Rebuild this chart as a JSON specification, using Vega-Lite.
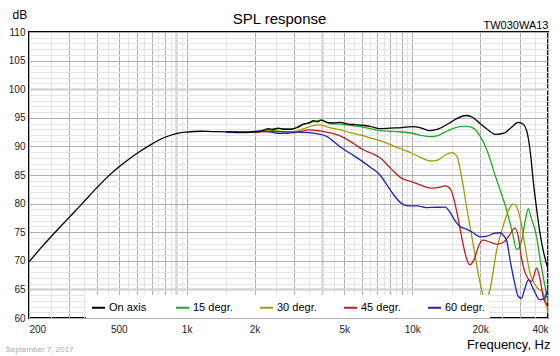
{
  "$schema": "https://vega.github.io/schema/vega-lite/v6.json",
  "width": 519,
  "height": 286,
  "autosize": {"type": "none"},
  "padding": {"left": 29, "top": 32, "right": 12, "bottom": 38},
  "background": "white",
  "config": {"font": "Liberation Sans", "view": {"stroke": "#000", "strokeWidth": 2}},
  "title": {"text": "SPL response", "fontSize": 15, "fontWeight": "normal", "anchor": "middle", "baseline": "alphabetic", "offset": 0, "dy": 31, "color": "#000", "dx": -9},
  "data": {"values": [
    {"series": "15 degr.", "freq": 1500, "db": 92.55},
    {"series": "15 degr.", "freq": 1900, "db": 92.5},
    {"series": "15 degr.", "freq": 2100, "db": 92.6},
    {"series": "15 degr.", "freq": 2300, "db": 93.0},
    {"series": "15 degr.", "freq": 2550, "db": 93.1},
    {"series": "15 degr.", "freq": 2900, "db": 93.0},
    {"series": "15 degr.", "freq": 3300, "db": 93.9},
    {"series": "15 degr.", "freq": 3600, "db": 94.3},
    {"series": "15 degr.", "freq": 3950, "db": 94.6},
    {"series": "15 degr.", "freq": 4300, "db": 94.0},
    {"series": "15 degr.", "freq": 4800, "db": 93.9},
    {"series": "15 degr.", "freq": 5500, "db": 93.6},
    {"series": "15 degr.", "freq": 6200, "db": 93.3},
    {"series": "15 degr.", "freq": 7200, "db": 92.75},
    {"series": "15 degr.", "freq": 8500, "db": 92.6},
    {"series": "15 degr.", "freq": 10000, "db": 92.3},
    {"series": "15 degr.", "freq": 11000, "db": 91.9},
    {"series": "15 degr.", "freq": 12000, "db": 91.7},
    {"series": "15 degr.", "freq": 13000, "db": 91.9},
    {"series": "15 degr.", "freq": 14500, "db": 92.8},
    {"series": "15 degr.", "freq": 16300, "db": 93.45},
    {"series": "15 degr.", "freq": 17500, "db": 93.5},
    {"series": "15 degr.", "freq": 18650, "db": 93.2},
    {"series": "15 degr.", "freq": 20000, "db": 91.8},
    {"series": "15 degr.", "freq": 21400, "db": 89.4},
    {"series": "15 degr.", "freq": 23700, "db": 84.1},
    {"series": "15 degr.", "freq": 26200, "db": 78.9},
    {"series": "15 degr.", "freq": 27800, "db": 75.0},
    {"series": "15 degr.", "freq": 29000, "db": 72.0},
    {"series": "15 degr.", "freq": 29800, "db": 72.3},
    {"series": "15 degr.", "freq": 30600, "db": 73.6},
    {"series": "15 degr.", "freq": 31700, "db": 77.0},
    {"series": "15 degr.", "freq": 32700, "db": 79.1},
    {"series": "15 degr.", "freq": 33700, "db": 77.5},
    {"series": "15 degr.", "freq": 35600, "db": 74.2},
    {"series": "15 degr.", "freq": 37000, "db": 70.0},
    {"series": "15 degr.", "freq": 38100, "db": 67.2},
    {"series": "15 degr.", "freq": 40000, "db": 62.6},

    {"series": "30 degr.", "freq": 1800, "db": 92.5},
    {"series": "30 degr.", "freq": 2100, "db": 92.6},
    {"series": "30 degr.", "freq": 2400, "db": 92.8},
    {"series": "30 degr.", "freq": 2700, "db": 92.6},
    {"series": "30 degr.", "freq": 3000, "db": 92.6},
    {"series": "30 degr.", "freq": 3300, "db": 93.1},
    {"series": "30 degr.", "freq": 3600, "db": 93.6},
    {"series": "30 degr.", "freq": 3900, "db": 93.75},
    {"series": "30 degr.", "freq": 4300, "db": 93.3},
    {"series": "30 degr.", "freq": 4800, "db": 92.9},
    {"series": "30 degr.", "freq": 5300, "db": 92.4},
    {"series": "30 degr.", "freq": 5900, "db": 92.0},
    {"series": "30 degr.", "freq": 6500, "db": 91.5},
    {"series": "30 degr.", "freq": 7200, "db": 91.0},
    {"series": "30 degr.", "freq": 8000, "db": 90.3},
    {"series": "30 degr.", "freq": 9000, "db": 89.5},
    {"series": "30 degr.", "freq": 10000, "db": 88.8},
    {"series": "30 degr.", "freq": 11000, "db": 88.0},
    {"series": "30 degr.", "freq": 12000, "db": 87.45},
    {"series": "30 degr.", "freq": 13000, "db": 87.6},
    {"series": "30 degr.", "freq": 14000, "db": 88.5},
    {"series": "30 degr.", "freq": 15000, "db": 88.9},
    {"series": "30 degr.", "freq": 15800, "db": 88.2},
    {"series": "30 degr.", "freq": 16500, "db": 85.0},
    {"series": "30 degr.", "freq": 17500, "db": 79.0},
    {"series": "30 degr.", "freq": 18600, "db": 73.1},
    {"series": "30 degr.", "freq": 19800, "db": 67.0},
    {"series": "30 degr.", "freq": 21000, "db": 63.3},
    {"series": "30 degr.", "freq": 22000, "db": 64.6},
    {"series": "30 degr.", "freq": 23700, "db": 71.9},
    {"series": "30 degr.", "freq": 25500, "db": 76.5},
    {"series": "30 degr.", "freq": 27000, "db": 79.2},
    {"series": "30 degr.", "freq": 28000, "db": 79.9},
    {"series": "30 degr.", "freq": 29000, "db": 79.5},
    {"series": "30 degr.", "freq": 30000, "db": 77.7},
    {"series": "30 degr.", "freq": 31500, "db": 73.0},
    {"series": "30 degr.", "freq": 33300, "db": 67.8},
    {"series": "30 degr.", "freq": 35500, "db": 65.5},
    {"series": "30 degr.", "freq": 38100, "db": 64.3},
    {"series": "30 degr.", "freq": 40000, "db": 60.9},

    {"series": "45 degr.", "freq": 1600, "db": 92.5},
    {"series": "45 degr.", "freq": 2000, "db": 92.5},
    {"series": "45 degr.", "freq": 2300, "db": 92.6},
    {"series": "45 degr.", "freq": 2700, "db": 92.6},
    {"series": "45 degr.", "freq": 3100, "db": 92.5},
    {"series": "45 degr.", "freq": 3500, "db": 92.9},
    {"series": "45 degr.", "freq": 3900, "db": 92.7},
    {"series": "45 degr.", "freq": 4400, "db": 92.3},
    {"series": "45 degr.", "freq": 5000, "db": 91.5},
    {"series": "45 degr.", "freq": 5500, "db": 90.5},
    {"series": "45 degr.", "freq": 6000, "db": 89.5},
    {"series": "45 degr.", "freq": 6600, "db": 88.8},
    {"series": "45 degr.", "freq": 7200, "db": 88.0},
    {"series": "45 degr.", "freq": 8000, "db": 86.2},
    {"series": "45 degr.", "freq": 9000, "db": 84.4},
    {"series": "45 degr.", "freq": 10000, "db": 83.8},
    {"series": "45 degr.", "freq": 11000, "db": 83.2},
    {"series": "45 degr.", "freq": 12000, "db": 82.7},
    {"series": "45 degr.", "freq": 13000, "db": 82.8},
    {"series": "45 degr.", "freq": 14000, "db": 83.1},
    {"series": "45 degr.", "freq": 14800, "db": 82.5},
    {"series": "45 degr.", "freq": 15700, "db": 78.9},
    {"series": "45 degr.", "freq": 16500, "db": 74.5},
    {"series": "45 degr.", "freq": 17300, "db": 70.8},
    {"series": "45 degr.", "freq": 18000, "db": 69.3},
    {"series": "45 degr.", "freq": 18800, "db": 70.2},
    {"series": "45 degr.", "freq": 19800, "db": 72.8},
    {"series": "45 degr.", "freq": 20700, "db": 73.6},
    {"series": "45 degr.", "freq": 22000, "db": 73.3},
    {"series": "45 degr.", "freq": 23700, "db": 72.9},
    {"series": "45 degr.", "freq": 25500, "db": 73.3},
    {"series": "45 degr.", "freq": 27000, "db": 74.5},
    {"series": "45 degr.", "freq": 28500, "db": 75.7},
    {"series": "45 degr.", "freq": 29500, "db": 74.3},
    {"series": "45 degr.", "freq": 30500, "db": 70.5},
    {"series": "45 degr.", "freq": 32000, "db": 67.5},
    {"series": "45 degr.", "freq": 33900, "db": 66.4},
    {"series": "45 degr.", "freq": 35600, "db": 68.7},
    {"series": "45 degr.", "freq": 36800, "db": 67.0},
    {"series": "45 degr.", "freq": 38100, "db": 63.7},
    {"series": "45 degr.", "freq": 40000, "db": 62.0},

    {"series": "60 degr.", "freq": 1500, "db": 92.5},
    {"series": "60 degr.", "freq": 1800, "db": 92.4},
    {"series": "60 degr.", "freq": 2100, "db": 92.7},
    {"series": "60 degr.", "freq": 2300, "db": 92.6},
    {"series": "60 degr.", "freq": 2550, "db": 92.3},
    {"series": "60 degr.", "freq": 2800, "db": 92.3},
    {"series": "60 degr.", "freq": 3100, "db": 92.5},
    {"series": "60 degr.", "freq": 3500, "db": 92.4},
    {"series": "60 degr.", "freq": 3800, "db": 92.2},
    {"series": "60 degr.", "freq": 4200, "db": 91.7},
    {"series": "60 degr.", "freq": 4500, "db": 90.8},
    {"series": "60 degr.", "freq": 4800, "db": 89.9},
    {"series": "60 degr.", "freq": 5300, "db": 88.8},
    {"series": "60 degr.", "freq": 5900, "db": 87.6},
    {"series": "60 degr.", "freq": 6500, "db": 86.4},
    {"series": "60 degr.", "freq": 7200, "db": 85.0},
    {"series": "60 degr.", "freq": 7800, "db": 83.0},
    {"series": "60 degr.", "freq": 8400, "db": 81.2},
    {"series": "60 degr.", "freq": 9000, "db": 80.0},
    {"series": "60 degr.", "freq": 9600, "db": 79.6},
    {"series": "60 degr.", "freq": 10500, "db": 79.6},
    {"series": "60 degr.", "freq": 11500, "db": 79.3},
    {"series": "60 degr.", "freq": 12500, "db": 79.35},
    {"series": "60 degr.", "freq": 14000, "db": 79.4},
    {"series": "60 degr.", "freq": 14700, "db": 78.5},
    {"series": "60 degr.", "freq": 15500, "db": 77.0},
    {"series": "60 degr.", "freq": 16300, "db": 76.0},
    {"series": "60 degr.", "freq": 17500, "db": 75.5},
    {"series": "60 degr.", "freq": 18500, "db": 75.0},
    {"series": "60 degr.", "freq": 20000, "db": 74.2},
    {"series": "60 degr.", "freq": 21500, "db": 74.3},
    {"series": "60 degr.", "freq": 23000, "db": 74.8},
    {"series": "60 degr.", "freq": 24500, "db": 74.9},
    {"series": "60 degr.", "freq": 25500, "db": 74.3},
    {"series": "60 degr.", "freq": 26200, "db": 73.6},
    {"series": "60 degr.", "freq": 27200, "db": 70.0},
    {"series": "60 degr.", "freq": 28500, "db": 66.0},
    {"series": "60 degr.", "freq": 29500, "db": 63.8},
    {"series": "60 degr.", "freq": 30500, "db": 63.45},
    {"series": "60 degr.", "freq": 31500, "db": 65.0},
    {"series": "60 degr.", "freq": 32700, "db": 66.65},
    {"series": "60 degr.", "freq": 34500, "db": 65.0},
    {"series": "60 degr.", "freq": 36800, "db": 63.2},
    {"series": "60 degr.", "freq": 38500, "db": 63.4},
    {"series": "60 degr.", "freq": 40000, "db": 65.3},

    {"series": "On axis", "freq": 200, "db": 69.8},
    {"series": "On axis", "freq": 230, "db": 72.6},
    {"series": "On axis", "freq": 260, "db": 74.9},
    {"series": "On axis", "freq": 300, "db": 77.5},
    {"series": "On axis", "freq": 350, "db": 80.3},
    {"series": "On axis", "freq": 400, "db": 82.8},
    {"series": "On axis", "freq": 450, "db": 84.8},
    {"series": "On axis", "freq": 500, "db": 86.4},
    {"series": "On axis", "freq": 560, "db": 87.9},
    {"series": "On axis", "freq": 620, "db": 89.1},
    {"series": "On axis", "freq": 700, "db": 90.4},
    {"series": "On axis", "freq": 770, "db": 91.3},
    {"series": "On axis", "freq": 850, "db": 91.95},
    {"series": "On axis", "freq": 930, "db": 92.35},
    {"series": "On axis", "freq": 1000, "db": 92.5},
    {"series": "On axis", "freq": 1150, "db": 92.65},
    {"series": "On axis", "freq": 1300, "db": 92.6},
    {"series": "On axis", "freq": 1500, "db": 92.55},
    {"series": "On axis", "freq": 1700, "db": 92.5},
    {"series": "On axis", "freq": 1900, "db": 92.5},
    {"series": "On axis", "freq": 2100, "db": 92.6},
    {"series": "On axis", "freq": 2300, "db": 93.1},
    {"series": "On axis", "freq": 2400, "db": 92.9},
    {"series": "On axis", "freq": 2550, "db": 93.2},
    {"series": "On axis", "freq": 2700, "db": 93.0},
    {"series": "On axis", "freq": 2900, "db": 93.0},
    {"series": "On axis", "freq": 3100, "db": 93.3},
    {"series": "On axis", "freq": 3300, "db": 93.9},
    {"series": "On axis", "freq": 3500, "db": 94.1},
    {"series": "On axis", "freq": 3650, "db": 94.5},
    {"series": "On axis", "freq": 3800, "db": 94.3},
    {"series": "On axis", "freq": 3950, "db": 94.6},
    {"series": "On axis", "freq": 4200, "db": 94.2},
    {"series": "On axis", "freq": 4500, "db": 94.1},
    {"series": "On axis", "freq": 4800, "db": 94.2},
    {"series": "On axis", "freq": 5200, "db": 93.9},
    {"series": "On axis", "freq": 5600, "db": 93.8},
    {"series": "On axis", "freq": 6000, "db": 93.7},
    {"series": "On axis", "freq": 6500, "db": 93.5},
    {"series": "On axis", "freq": 7200, "db": 93.1},
    {"series": "On axis", "freq": 8000, "db": 93.2},
    {"series": "On axis", "freq": 9000, "db": 93.3},
    {"series": "On axis", "freq": 10000, "db": 93.45},
    {"series": "On axis", "freq": 11000, "db": 93.2},
    {"series": "On axis", "freq": 12000, "db": 92.75},
    {"series": "On axis", "freq": 13000, "db": 93.0},
    {"series": "On axis", "freq": 14500, "db": 94.0},
    {"series": "On axis", "freq": 16000, "db": 95.0},
    {"series": "On axis", "freq": 17400, "db": 95.4},
    {"series": "On axis", "freq": 18500, "db": 95.1},
    {"series": "On axis", "freq": 20000, "db": 94.0},
    {"series": "On axis", "freq": 21500, "db": 93.0},
    {"series": "On axis", "freq": 23500, "db": 92.1},
    {"series": "On axis", "freq": 25500, "db": 92.3},
    {"series": "On axis", "freq": 27500, "db": 93.3},
    {"series": "On axis", "freq": 29500, "db": 94.2},
    {"series": "On axis", "freq": 31000, "db": 93.9},
    {"series": "On axis", "freq": 32500, "db": 92.0},
    {"series": "On axis", "freq": 33500, "db": 88.5},
    {"series": "On axis", "freq": 34500, "db": 83.5},
    {"series": "On axis", "freq": 35500, "db": 79.5},
    {"series": "On axis", "freq": 36800, "db": 75.0},
    {"series": "On axis", "freq": 38000, "db": 72.0},
    {"series": "On axis", "freq": 39200, "db": 69.8},
    {"series": "On axis", "freq": 40000, "db": 68.6}
  ]},
  "layer": [
    {
      "mark": {"type": "line", "strokeWidth": 1.3, "interpolate": "monotone", "clip": true},
      "encoding": {
        "x": {
          "field": "freq", "type": "quantitative",
          "scale": {"type": "log", "domain": [200, 40000], "nice": false},
          "axis": {
            "orient": "bottom",
            "values": [200, 250, 300, 350, 400, 450, 500, 550, 600, 650, 700, 750, 800, 850, 900, 950, 1000, 1500, 2000, 2500, 3000, 3500, 4000, 4500, 5000, 5500, 6000, 6500, 7000, 7500, 8000, 8500, 9000, 9500, 10000, 15000, 20000, 25000, 30000, 35000, 40000],
            "labelExpr": "indexof([200, 500, 1000, 2000, 5000, 10000, 20000, 40000], datum.value) >= 0 ? (datum.value >= 1000 ? (datum.value / 1000) + 'k' : datum.value + '') : ''",
            "grid": true,
            "gridColor": {"condition": [
              {"test": "datum.value === 900 || datum.value === 4000", "value": "#d6d6d6"},
              {"test": "indexof([200, 300, 400, 500, 600, 700, 800, 1000, 2000, 3000, 5000, 6000, 7000, 8000, 9000, 10000, 20000, 30000, 40000], datum.value) >= 0", "value": "#b0b0b0"}
            ], "value": "#e4e4e4"},
            "gridWidth": {"condition": {"test": "datum.value === 900 || datum.value === 4000", "value": 2.5}, "value": 1},
            "ticks": false,
            "domain": false,
            "labelFlush": true,
            "labelOverlap": false,
            "labelBound": false,
            "labelPadding": 6,
            "labelFontSize": 10,
            "labelColor": "#222",
            "title": "Frequency, Hz",
            "titleFontSize": 13,
            "titleFontWeight": "normal",
            "titleColor": "#000",
            "titleAnchor": "end",
            "titleAlign": "right",
            "titleBaseline": "alphabetic",
            "titleX": 521,
            "titleY": 30
          }
        },
        "y": {
          "field": "db", "type": "quantitative",
          "scale": {"domain": [60, 110], "nice": false, "zero": false},
          "axis": {
            "orient": "left",
            "values": [60, 61, 62, 63, 64, 65, 66, 67, 68, 69, 70, 71, 72, 73, 74, 75, 76, 77, 78, 79, 80, 81, 82, 83, 84, 85, 86, 87, 88, 89, 90, 91, 92, 93, 94, 95, 96, 97, 98, 99, 100, 101, 102, 103, 104, 105, 106, 107, 108, 109, 110],
            "labelExpr": "datum.value % 5 === 0 ? datum.label : ''",
            "grid": true,
            "gridColor": {"condition": [
              {"test": "datum.value === 100 || datum.value === 65", "value": "#d6d6d6"},
              {"test": "datum.value % 5 === 0", "value": "#b0b0b0"}
            ], "value": "#e4e4e4"},
            "gridWidth": {"condition": {"test": "datum.value === 100 || datum.value === 65", "value": 2.5}, "value": 1},
            "ticks": false,
            "domain": false,
            "labelOverlap": false,
            "labelBound": false,
            "labelPadding": 4,
            "labelFontSize": 10,
            "labelColor": "#222",
            "title": "dB",
            "titleAngle": 0,
            "titleFontSize": 12,
            "titleFontWeight": "normal",
            "titleColor": "#000",
            "titleAlign": "left",
            "titleBaseline": "alphabetic",
            "titleX": -17,
            "titleY": -14
          }
        },
        "color": {
          "field": "series", "type": "nominal",
          "scale": {"domain": ["On axis", "15 degr.", "30 degr.", "45 degr.", "60 degr."], "range": ["#000000", "#22a822", "#a09c00", "#b82020", "#2020b4"]},
          "legend": {
            "orient": "none",
            "legendX": 57,
            "legendY": 263,
            "direction": "horizontal",
            "columns": 5,
            "gridAlign": "all",
            "title": null,
            "symbolType": "stroke",
            "symbolSize": 169,
            "symbolStrokeWidth": 2,
            "labelFontSize": 11,
            "labelOffset": 3,
            "labelColor": "#000",
            "labelLimit": 0,
            "columnPadding": 23,
            "fillColor": "white",
            "padding": 5
          }
        }
      }
    },
    {
      "mark": {"type": "point", "opacity": 0},
      "encoding": {
        "x": {
          "field": "freq", "type": "quantitative",
          "axis": {"orient": "top", "labels": false, "ticks": false, "domain": false, "grid": false,
                   "title": "TW030WA13", "titleFontSize": 11, "titleFontWeight": "normal", "titleColor": "#000",
                   "titleAlign": "right", "titleBaseline": "alphabetic", "titleX": 519, "titleY": -4}
        },
        "y": {
          "field": "db", "type": "quantitative",
          "axis": {"orient": "right", "labels": false, "ticks": false, "domain": false, "grid": false,
                   "title": "September 7, 2017", "titleAngle": 0, "titleFontSize": 8, "titleFontWeight": "normal", "titleColor": "#aaaaaa",
                   "titleAlign": "left", "titleBaseline": "alphabetic", "titleX": -543, "titleY": 319}
        }
      }
    }
  ],
  "resolve": {"axis": {"x": "independent", "y": "independent"}}
}
